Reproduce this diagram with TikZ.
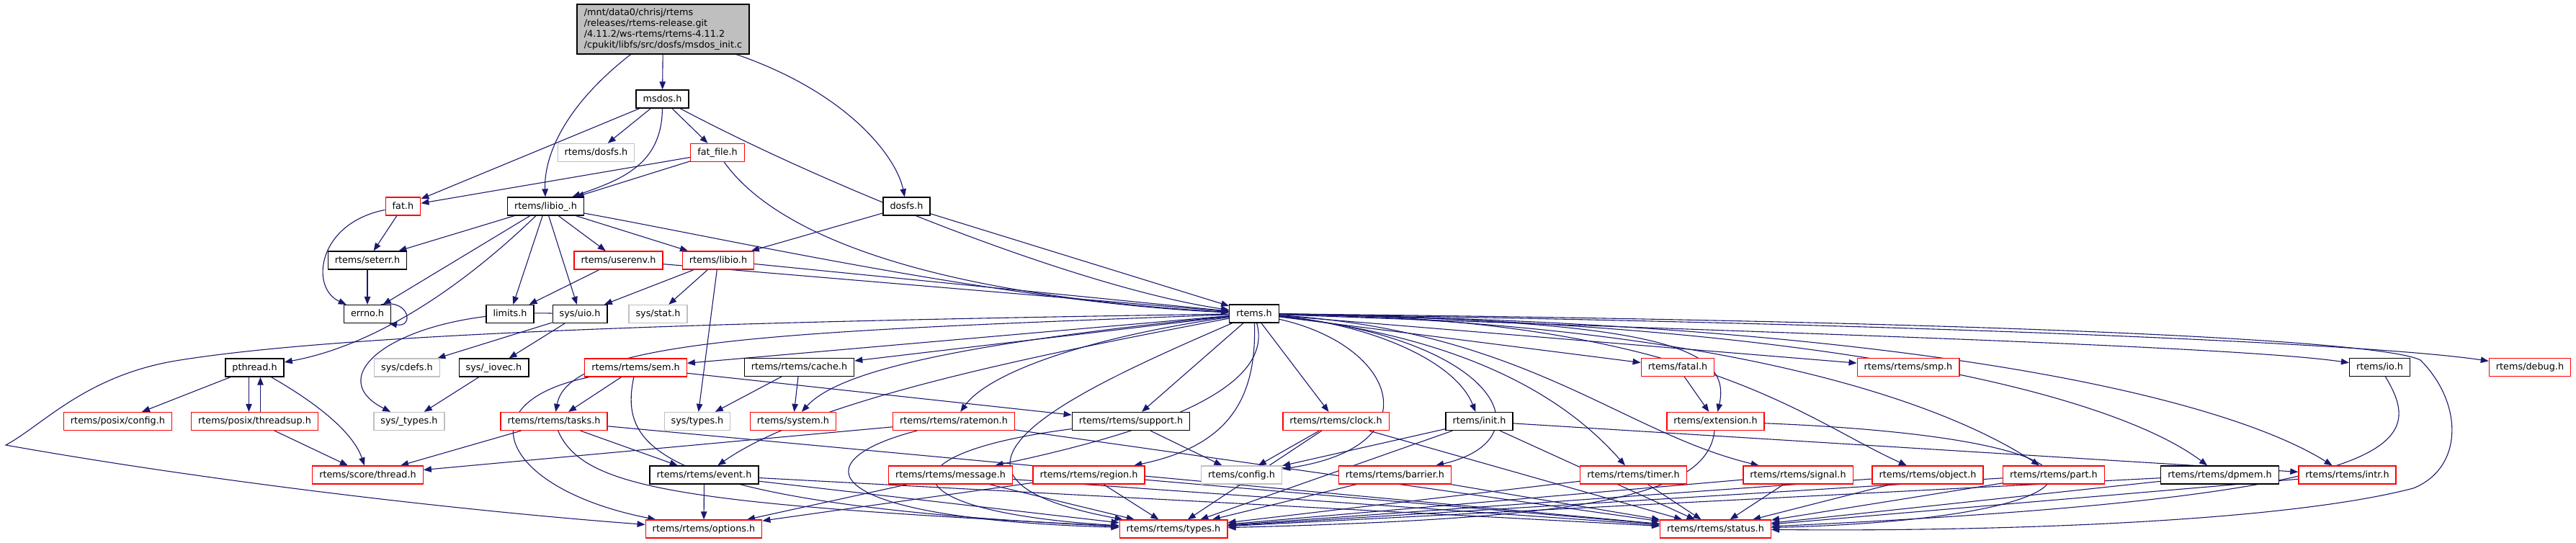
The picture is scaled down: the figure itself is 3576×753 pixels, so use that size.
\documentclass[tikz,border=0pt]{standalone}
\usepackage{fontspec}
\setmainfont{DejaVu Sans}
\usetikzlibrary{arrows.meta}
\definecolor{edgeblue}{HTML}{191970}
\definecolor{nodered}{HTML}{FF0000}
\definecolor{nodegray}{HTML}{BFBFBF}
\pgfdeclarelayer{bg}
\pgfsetlayers{bg,main}
\begin{document}
\begin{tikzpicture}[x=1pt,y=-1pt,
  box/.style={draw, line width=1.3pt, fill=white, inner xsep=9.5pt, inner ysep=0pt, minimum height=25pt, text height=9.6pt, text depth=2.6pt, font=\fontsize{12.8}{14.8}\selectfont},
  nb/.style={box, draw=black},
  nr/.style={box, draw=nodered},
  ng/.style={box, draw=nodegray},
  edg/.style={draw=edgeblue, line width=1.1pt, -{Triangle[length=11pt,width=8.5pt]}}]
\useasboundingbox (0,0) rectangle (3576,753);
% nodes
\node[box, draw=black, fill=nodegray, align=left, minimum width=239pt, minimum height=69pt, text height=, text depth=] (main) at (920.5,40.5) {/mnt/data0/chrisj/rtems\\/releases/rtems-release.git\\/4.11.2/ws-rtems/rtems-4.11.2\\/cpukit/libfs/src/dosfs/msdos\_init.c};
\node[nb] (msdos) at (919.5,137.5) {msdos.h};
\node[ng] (rdosfs) at (827.5,212) {rtems/dosfs.h};
\node[nr] (fatfile) at (996,212) {fat\_file.h};
\node[nb] (libiou) at (757.5,286.5) {rtems/libio\_.h};
\node[nr] (fat) at (559.5,286.5) {fat.h};
\node[nb] (dosfs) at (1258.5,286.5) {dosfs.h};
\node[nr] (userenv) at (858.5,361.5) {rtems/userenv.h};
\node[nr] (libio) at (997,361.5) {rtems/libio.h};
\node[nb] (seterr) at (510,361.5) {rtems/seterr.h};
\node[nb] (errno) at (510,436) {errno.h};
\node[nb] (limits) at (708,436) {limits.h};
\node[nb] (uio) at (805,436) {sys/uio.h};
\node[ng] (stat) at (913.5,436) {sys/stat.h};
\node[nb] (rtems) at (1741,435.5) {rtems.h};
\node[nb] (pthread) at (353.5,510.5) {pthread.h};
\node[ng] (cdefs) at (565,510.5) {sys/cdefs.h};
\node[nb] (iovec) at (685.5,510.5) {sys/\_iovec.h};
\node[nr] (sem) at (882.5,510.5) {rtems/rtems/sem.h};
\node[nb] (cache) at (1109.5,510) {rtems/rtems/cache.h};
\node[nr] (fatal) at (2329,510) {rtems/fatal.h};
\node[nr] (smp) at (2649,510) {rtems/rtems/smp.h};
\node[nb] (io) at (3303.5,510) {rtems/io.h};
\node[nr] (debug) at (3512,510) {rtems/debug.h};
\node[nr] (pconfig) at (163.5,585) {rtems/posix/config.h};
\node[nr] (threadsup) at (353.5,585) {rtems/posix/threadsup.h};
\node[ng] (stypesu) at (568,585) {sys/\_types.h};
\node[nr] (tasks) at (769,585) {rtems/rtems/tasks.h};
\node[ng] (stypes) at (968,585) {sys/types.h};
\node[nr] (system) at (1101,585) {rtems/system.h};
\node[nr] (ratemon) at (1324,585) {rtems/rtems/ratemon.h};
\node[nb] (support) at (1570,585) {rtems/rtems/support.h};
\node[nr] (clock) at (1854.5,585) {rtems/rtems/clock.h};
\node[nb] (init) at (2053.5,585) {rtems/init.h};
\node[nr] (extension) at (2381.5,585) {rtems/extension.h};
\node[nr] (scthread) at (510.5,659.5) {rtems/score/thread.h};
\node[nb] (event) at (977.5,659.5) {rtems/rtems/event.h};
\node[nr] (message) at (1319.5,659.5) {rtems/rtems/message.h};
\node[nr] (region) at (1511.5,659.5) {rtems/rtems/region.h};
\node[ng] (config) at (1723.5,659.5) {rtems/config.h};
\node[nr] (barrier) at (1936.5,659.5) {rtems/rtems/barrier.h};
\node[nr] (timer) at (2267.5,659.5) {rtems/rtems/timer.h};
\node[nr] (signal) at (2496,659.5) {rtems/rtems/signal.h};
\node[nr] (object) at (2676,659.5) {rtems/rtems/object.h};
\node[nr] (part) at (2851,659.5) {rtems/rtems/part.h};
\node[nb] (dpmem) at (3081.5,659.5) {rtems/rtems/dpmem.h};
\node[nr] (intr) at (3258.5,659.5) {rtems/rtems/intr.h};
\node[nr] (options) at (977,734.5) {rtems/rtems/options.h};
\node[nr] (types) at (1629,734.5) {rtems/rtems/types.h};
\node[nr] (status) at (2381.5,734.5) {rtems/rtems/status.h};
\begin{pgfonlayer}{bg}
% edges: top part
\draw[edg] (main) -- (msdos);
\draw[edg] (main) .. controls (780,150) and (755,220) .. (libiou);
\draw[edg] (main) .. controls (1180,130) and (1245,220) .. (dosfs);
\draw[edg] (msdos) -- (fat);
\draw[edg] (msdos) -- (rdosfs);
\draw[edg] (msdos) .. controls (919,230) and (860,250) .. (libiou);
\draw[edg] (msdos) -- (fatfile);
\draw[edg] (msdos) .. controls (1150,260) and (1500,400) .. (rtems);
\draw[edg] (fatfile) -- (fat);
\draw[edg] (fatfile) -- (libiou);
\draw[edg] (fatfile) .. controls (1080,330) and (1300,410) .. (rtems);
\draw[edg] (fat) -- (seterr);
\draw[edg] (fat) .. controls (440,310) and (430,400) .. (errno);
\draw[edg] (libiou) -- (seterr);
\draw[edg] (libiou) -- (errno);
\draw[edg] (libiou) .. controls (640,400) and (520,480) .. (pthread);
\draw[edg] (libiou) -- (limits);
\draw[edg] (libiou) -- (uio);
\draw[edg] (libiou) -- (userenv);
\draw[edg] (libiou) -- (libio);
\draw[edg] (libiou) .. controls (1000,330) and (1400,420) .. (rtems);
\draw[edg] (seterr) -- (errno);
\draw[edg] ([xshift=19pt]errno.north) .. controls +(40,-8) and +(35,6) .. ([xshift=30pt]errno.south);
\draw[edg] (userenv) -- (limits);
\draw[edg] (userenv) -- (rtems);
\draw[edg] (libio) -- (uio);
\draw[edg] (libio) -- (stat);
\draw[edg] (libio) -- (stypes);
\draw[edg] (libio) -- (rtems);
\draw[edg] (dosfs) -- (libio);
\draw[edg] (dosfs) -- (rtems);
\draw[edg] (uio) -- (cdefs);
\draw[edg] (uio) -- (iovec);
\draw[edg] (uio) .. controls (560,430) and (440,520) .. (stypesu);
\draw[edg] (iovec) -- (stypesu);
\draw[edg] (pthread) -- (pconfig);
\draw[edg] ([xshift=-8pt]pthread.south) -- ([xshift=-8pt]threadsup.north);
\draw[edg] ([xshift=8pt]threadsup.north) -- ([xshift=8pt]pthread.south);
\draw[edg] (pthread) .. controls (440,560) and (490,600) .. (scthread);
\draw[edg] (threadsup) -- (scthread);
% edges from rtems.h
\draw[edg] (rtems) -- (sem);
\draw[edg] (rtems) -- (cache);
\draw[edg] (rtems) .. controls (1300,480) and (1160,520) .. (system);
\draw[edg] (rtems) .. controls (1100,460) and (790,470) .. (tasks);
\draw[edg] (rtems) .. controls (1500,470) and (1370,520) .. (ratemon);
\draw[edg] (rtems) -- (support);
\draw[edg] (rtems) .. controls (1400,500) and (1120,560) .. (event);
\draw[edg] (rtems) .. controls (1770,540) and (1600,600) .. (message);
\draw[edg] (rtems) .. controls (1745,560) and (1700,620) .. (region);
\draw[edg] (rtems) .. controls (1940,480) and (1990,620) .. (config);
\draw[edg] (rtems) .. controls (1500,540) and (1230,660) .. (types);
\draw[edg] (rtems) .. controls (1100,445) and (500,460) .. (250,500) .. controls (120,520) and (60,590) .. (8,618) .. controls (300,670) and (650,710) .. (options);
\draw[edg] (rtems) -- (clock);
\draw[edg] (rtems) .. controls (1900,450) and (2020,500) .. (init);
\draw[edg] (rtems) .. controls (2080,470) and (2150,610) .. (barrier);
\draw[edg] (rtems) .. controls (2050,470) and (2180,560) .. (timer);
\draw[edg] (rtems) -- (fatal);
\draw[edg] (rtems) .. controls (2300,445) and (2405,480) .. (extension);
\draw[edg] (rtems) .. controls (2120,460) and (2250,600) .. (signal);
\draw[edg] (rtems) .. controls (2350,440) and (2500,580) .. (object);
\draw[edg] (rtems) .. controls (2400,450) and (2700,560) .. (part);
\draw[edg] (rtems) -- (smp);
\draw[edg] (rtems) .. controls (2600,450) and (2950,560) .. (dpmem);
\draw[edg] (rtems) .. controls (2700,450) and (3100,560) .. (intr);
\draw[edg] (rtems) .. controls (2400,460) and (3100,480) .. (io);
\draw[edg] (rtems) .. controls (2700,450) and (3300,478) .. (debug);
\draw[edg] (rtems) .. controls (2700,445) and (3300,470) .. (3360,500) .. controls (3420,560) and (3420,650) .. (3350,678) .. controls (3150,730) and (2700,738) .. (status);
% lower edges
\draw[edg] (cache) -- (stypes);
\draw[edg] (cache) -- (system);
\draw[edg] (sem) -- (tasks);
\draw[edg] (sem) .. controls (640,560) and (700,680) .. (options);
\draw[edg] (sem) .. controls (860,620) and (900,700) .. (types);
\draw[edg] (sem) -- (support);
\draw[edg] (tasks) -- (scthread);
\draw[edg] (tasks) -- (event);
\draw[edg] (tasks) .. controls (810,680) and (950,700) .. (types);
\draw[edg] (tasks) -- (status);
\draw[edg] (ratemon) -- (scthread);
\draw[edg] (ratemon) .. controls (1110,640) and (1130,720) .. (types);
\draw[edg] (ratemon) -- (status);
\draw[edg] (support) .. controls (1220,630) and (1230,710) .. (types);
\draw[edg] (support) -- (config);
\draw[edg] (event) -- (options);
\draw[edg] (event) -- (types);
\draw[edg] (event) -- (status);
\draw[edg] (message) -- (options);
\draw[edg] (message) -- (types);
\draw[edg] (message) -- (status);
\draw[edg] (region) -- (options);
\draw[edg] (region) -- (types);
\draw[edg] (region) -- (status);
\draw[edg] (clock) -- (config);
\draw[edg] (clock) -- (types);
\draw[edg] (clock) -- (status);
\draw[edg] (init) -- (config);
\draw[edg] (init) -- (types);
\draw[edg] (init) -- (status);
\draw[edg] (init) -- (intr);
\draw[edg] (fatal) -- (extension);
\draw[edg] (extension) .. controls (2370,690) and (2200,720) .. (types);
\draw[edg] (extension) .. controls (3000,610) and (2950,720) .. (status);
\draw[edg] (barrier) -- (types);
\draw[edg] (barrier) -- (status);
\draw[edg] (timer) -- (types);
\draw[edg] (timer) -- (status);
\draw[edg] (signal) -- (types);
\draw[edg] (signal) -- (status);
\draw[edg] (object) -- (types);
\draw[edg] (object) -- (status);
\draw[edg] (part) -- (types);
\draw[edg] (part) -- (status);
\draw[edg] (dpmem) -- (types);
\draw[edg] (dpmem) -- (status);
\draw[edg] (intr) -- (status);
\draw[edg] (io) .. controls (3370,620) and (3340,690) .. (status);
\end{pgfonlayer}
\end{tikzpicture}
\end{document}
